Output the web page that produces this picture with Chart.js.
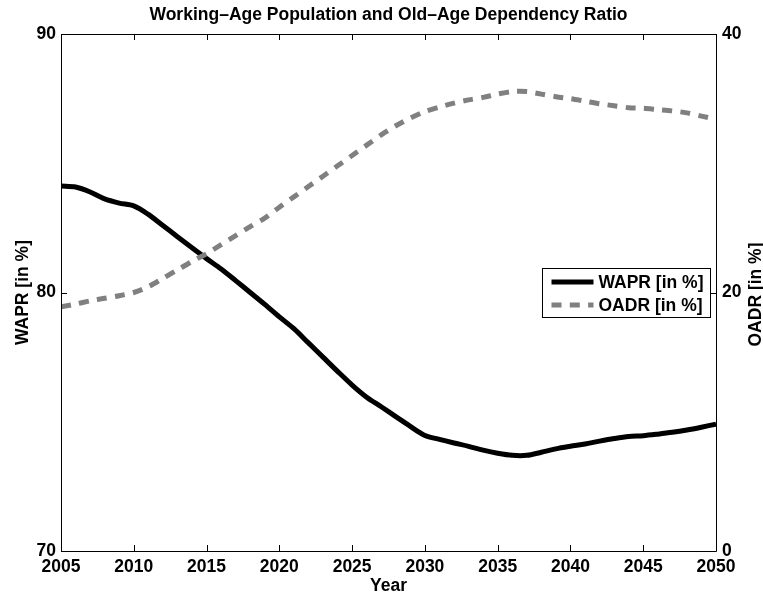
<!DOCTYPE html>
<html>
<head>
<meta charset="utf-8">
<script src="https://cdn.jsdelivr.net/npm/chart.js@4.4.1/dist/chart.umd.min.js"></script>
<style>
  html, body { margin: 0; padding: 0; background: #fff; }
  #wrap { width: 763px; height: 597px; }
</style>
</head>
<body>
<div id="wrap"><canvas id="c" width="763" height="597"></canvas></div>
<script>
const years = [2005,2006,2007,2008,2009,2010,2011,2012,2013,2014,2015,2016,2017,2018,2019,2020,
  2021,2022,2023,2024,2025,2026,2027,2028,2029,2030,2031,2032,2033,2034,2035,2036,2037,2038,2039,2040,
  2041,2042,2043,2044,2045,2046,2047,2048,2049,2050];
const wapr = [84.12,84.08,83.89,83.62,83.46,83.35,83.02,82.59,82.16,81.73,81.31,80.91,80.46,80.00,79.54,79.06,
  78.60,78.05,77.50,76.95,76.42,75.95,75.58,75.20,74.82,74.47,74.32,74.18,74.05,73.90,73.78,73.70,73.70,73.82,73.95,74.05,
  74.14,74.25,74.35,74.43,74.46,74.52,74.59,74.68,74.79,74.91];
const oadr = [18.9,19.1,19.35,19.55,19.75,20.0,20.45,21.1,21.75,22.4,23.0,23.7,24.4,25.1,25.75,26.6,
  27.4,28.2,29.0,29.8,30.6,31.4,32.2,32.9,33.5,34.0,34.35,34.65,34.9,35.1,35.35,35.55,35.55,35.35,35.15,35.0,
  34.8,34.6,34.45,34.3,34.25,34.15,34.05,33.9,33.65,33.4];
const xTicks = [2005,2010,2015,2020,2025,2030,2035,2040,2045,2050];
const leftTicks = [70,80,90];
const rightTicks = [0,20,40];
const titleText = 'Working\u2013Age Population and Old\u2013Age Dependency Ratio';
const xTitle = 'Year';
const leftTitle = 'WAPR [in %]';
const rightTitle = 'OADR [in %]';
const seriesLabels = ['WAPR [in %]', 'OADR [in %]'];

const FONT = '"Liberation Sans", Arial, Helvetica, sans-serif';
const FS = 17.5;
const GRAY = '#808080';
const DASH = [10, 8.3];

const framePlugin = {
  id: 'frame',
  afterDatasetsDraw(chart) {
    const {ctx, chartArea: a, scales} = chart;
    ctx.save();
    ctx.strokeStyle = '#000';
    ctx.lineWidth = 1;
    ctx.beginPath();
    ctx.rect(a.left + 0.5, a.top + 0.5, a.right - a.left, a.bottom - a.top);
    ctx.stroke();
    const tl = 6;
    ctx.beginPath();
    xTicks.forEach(v => {
      const px = Math.round(scales.x.getPixelForValue(v)) + 0.5;
      ctx.moveTo(px, a.bottom); ctx.lineTo(px, a.bottom - tl);
      ctx.moveTo(px, a.top); ctx.lineTo(px, a.top + tl);
    });
    leftTicks.forEach(v => {
      const py = Math.round(scales.y.getPixelForValue(v)) + 0.5;
      ctx.moveTo(a.left, py); ctx.lineTo(a.left + tl, py);
    });
    rightTicks.forEach(v => {
      const py = Math.round(scales.y2.getPixelForValue(v)) + 0.5;
      ctx.moveTo(a.right, py); ctx.lineTo(a.right - tl, py);
    });
    ctx.stroke();
    ctx.restore();
  },
  afterDraw(chart) {
    const {ctx, chartArea: a} = chart;
    // title centred over the plot area
    ctx.save();
    ctx.font = 'bold ' + FS + 'px ' + FONT;
    ctx.fillStyle = '#000';
    ctx.textAlign = 'center';
    ctx.textBaseline = 'middle';
    ctx.fillText(titleText, (a.left + a.right) / 2, 15);
    ctx.restore();

    // right axis title, reading bottom to top
    ctx.save();
    ctx.font = 'bold ' + FS + 'px ' + FONT;
    ctx.fillStyle = '#000';
    ctx.textAlign = 'center';
    ctx.textBaseline = 'middle';
    ctx.translate(756, (a.top + a.bottom) / 2 + 2);
    ctx.rotate(-Math.PI / 2);
    ctx.fillText(rightTitle, 0, 0);
    ctx.restore();

    // legend
    ctx.save();
    const bx = a.right - 173.5, by = a.top + 234.5, bw = 168, bh = 49;
    ctx.fillStyle = '#fff';
    ctx.fillRect(bx, by, bw, bh);
    ctx.strokeStyle = '#000';
    ctx.lineWidth = 1;
    ctx.strokeRect(bx, by, bw, bh);
    const rows = [by + 13.5, by + 36.5];
    chart.data.datasets.forEach((ds, i) => {
      ctx.beginPath();
      ctx.strokeStyle = ds.borderColor;
      ctx.lineWidth = ds.borderWidth;
      ctx.lineCap = 'butt';
      ctx.setLineDash(ds.borderDash || []);
      ctx.moveTo(bx + 9, rows[i]);
      ctx.lineTo(bx + 51, rows[i]);
      ctx.stroke();
      ctx.setLineDash([]);
      ctx.fillStyle = '#000';
      ctx.font = 'bold ' + FS + 'px ' + FONT;
      ctx.textAlign = 'left';
      ctx.textBaseline = 'middle';
      ctx.fillText(ds.label, bx + 56, rows[i] + 1);
    });
    ctx.restore();
  }
};

const tickFont = {family: FONT, size: FS, weight: 'bold'};

new Chart(document.getElementById('c'), {
  type: 'line',
  data: {
    datasets: [
      {
        label: seriesLabels[0],
        data: years.map((y, i) => ({x: y, y: wapr[i]})),
        yAxisID: 'y',
        borderColor: '#000',
        borderWidth: 5,
        pointRadius: 0,
        tension: 0.3,
        order: 2
      },
      {
        label: seriesLabels[1],
        data: years.map((y, i) => ({x: y, y: oadr[i]})),
        yAxisID: 'y2',
        borderColor: GRAY,
        borderWidth: 5,
        borderDash: DASH,
        borderCapStyle: 'butt',
        pointRadius: 0,
        tension: 0.3,
        order: 1
      }
    ]
  },
  options: {
    responsive: false,
    animation: false,
    layout: {padding: {top: 34, left: 0, right: 0, bottom: 0}},
    plugins: {
      legend: {display: false},
      tooltip: {enabled: false},
      title: {display: false}
    },
    scales: {
      x: {
        type: 'linear',
        min: 2005, max: 2050,
        afterBuildTicks: s => { s.ticks = xTicks.map(v => ({value: v})); },
        afterFit: s => { s.height = 46; },
        grid: {display: false, drawTicks: false},
        border: {display: false},
        ticks: {color: '#000', font: tickFont, padding: 6, maxRotation: 0, autoSkip: false,
          callback: v => String(v)},
        title: {display: true, text: xTitle, color: '#000', font: tickFont, padding: {top: 0, bottom: 0}}
      },
      y: {
        position: 'left',
        min: 70, max: 90,
        afterBuildTicks: s => { s.ticks = leftTicks.map(v => ({value: v})); },
        afterFit: s => { s.width = 61; },
        grid: {display: false, drawTicks: false},
        border: {display: false},
        ticks: {color: '#000', font: tickFont, padding: 5},
        title: {display: true, text: leftTitle, color: '#000', font: tickFont, padding: {top: 13, bottom: 0}}
      },
      y2: {
        position: 'right',
        min: 0, max: 40,
        afterBuildTicks: s => { s.ticks = rightTicks.map(v => ({value: v})); },
        afterFit: s => { s.width = 763 - 716; },
        grid: {display: false, drawTicks: false},
        border: {display: false},
        ticks: {color: '#000', font: tickFont, padding: 6}
      }
    }
  },
  plugins: [framePlugin]
});
</script>
</body>
</html>
